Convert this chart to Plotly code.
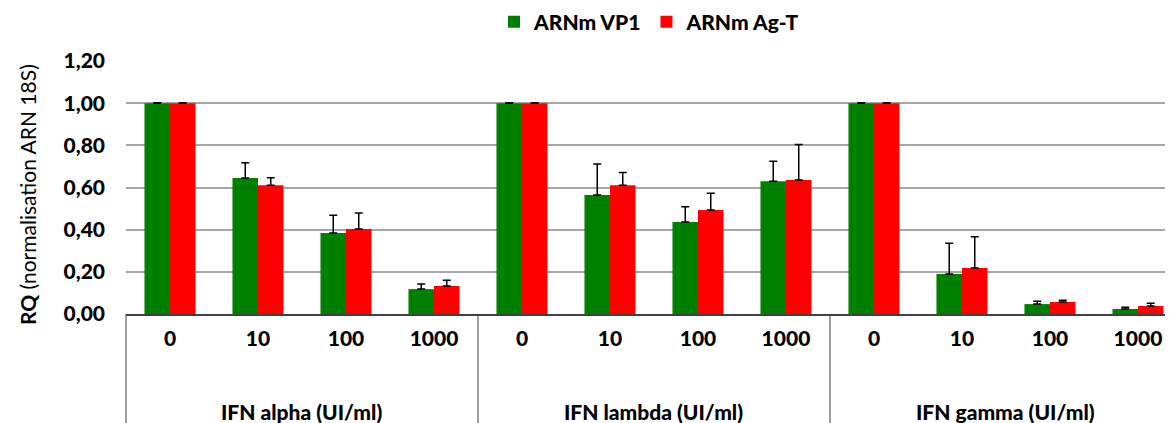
import plotly.graph_objects as go

groups = ["IFN alpha (UI/ml)", "IFN lambda (UI/ml)", "IFN gamma (UI/ml)"]
doses = ["0", "10", "100", "1000"]
series_names = ["ARNm VP1", "ARNm Ag-T"]
vp1 = [1.0, 0.645, 0.384, 0.118, 1.0, 0.564, 0.436, 0.630, 1.0, 0.190, 0.047, 0.024]
vp1_err = [0.002, 0.072, 0.084, 0.024, 0.002, 0.148, 0.073, 0.094, 0.002, 0.145, 0.013, 0.008]
agt = [1.0, 0.611, 0.403, 0.133, 1.0, 0.611, 0.493, 0.635, 1.0, 0.218, 0.057, 0.038]
agt_err = [0.002, 0.035, 0.076, 0.027, 0.002, 0.060, 0.080, 0.169, 0.002, 0.148, 0.008, 0.013]
colors = ["#008000", "#FF0000"]
y_ticks = [0.0, 0.2, 0.4, 0.6, 0.8, 1.0, 1.2]

FONT = "Lato"
FS = 21
BOLD = 900
n = len(groups) * len(doses)
xpos = list(range(n))
ticktext = doses * len(groups)
xmin, xmax = -0.5, 11.398

# page body has an 8px default margin -> figure is drawn at (8, 8)
W, H = 1165, 415
ML, MT, MB = 118, 53, 109
plot_w = W - ML
plot_h = H - MT - MB

fig = go.Figure()
for name, vals, errs, col in [(series_names[0], vp1, vp1_err, colors[0]),
                              (series_names[1], agt, agt_err, colors[1])]:
    fig.add_trace(go.Bar(
        x=xpos, y=vals, name=name, marker=dict(color=col, line=dict(width=0)),
        error_y=dict(type="data", array=errs, arrayminus=[0] * len(errs), symmetric=False,
                     color="black", thickness=1.5, width=4),
    ))

def px(v):
    return (v - xmin) / (xmax - xmin)

shapes = []
for g in range(len(groups) + 1):
    xv = g * len(doses) - 0.5
    shapes.append(dict(type="line", xref="paper", yref="paper", x0=px(xv), x1=px(xv),
                       y0=0, y1=-MB / plot_h, line=dict(color="#404040", width=1)))

annotations = []
for g, label in enumerate(groups):
    xc = g * len(doses) + (len(doses) - 1) / 2
    annotations.append(dict(text=label, xref="paper", yref="paper", x=px(xc), y=-97 / plot_h,
                            xanchor="center", yanchor="middle", showarrow=False,
                            font=dict(family=FONT, size=FS, color="black", weight=BOLD)))
annotations.append(dict(text="<b>RQ</b> (normalisation ARN 18S)", xref="paper", yref="paper",
                        x=-(ML - 19) / plot_w, y=0.47, xanchor="center", yanchor="middle",
                        textangle=-90, showarrow=False,
                        font=dict(family=FONT, size=FS, color="black")))

fig.update_layout(
    width=W, height=H,
    margin=dict(l=ML, r=0, t=MT, b=MB),
    plot_bgcolor="white", paper_bgcolor="white",
    barmode="group", bargap=0.42, bargroupgap=0,
    shapes=shapes, annotations=annotations,
    legend=dict(orientation="h", xref="paper", x=0.5, xanchor="center",
                yref="container", y=1 - 14 / H, yanchor="middle",
                font=dict(family=FONT, size=FS, color="black", weight=BOLD),
                itemwidth=30, tracegroupgap=0),
    xaxis=dict(range=[xmin, xmax], tickmode="array", tickvals=xpos, ticktext=ticktext,
               showgrid=False, zeroline=False, showline=True, linecolor="#404040", linewidth=1.5,
               ticks="", ticklabelstandoff=5,
               tickfont=dict(family=FONT, size=FS, color="black", weight=BOLD)),
    yaxis=dict(range=[0, 1.2], tickmode="array", tickvals=y_ticks,
               ticktext=[f"{v:.2f}".replace(".", ",") for v in y_ticks],
               showgrid=True, gridcolor="#a6a6a6", gridwidth=1.5,
               zeroline=False, showline=False, ticks="", ticklabelstandoff=20,
               tickfont=dict(family=FONT, size=FS, color="black", weight=BOLD)),
)

fig.write_html("out.html")
